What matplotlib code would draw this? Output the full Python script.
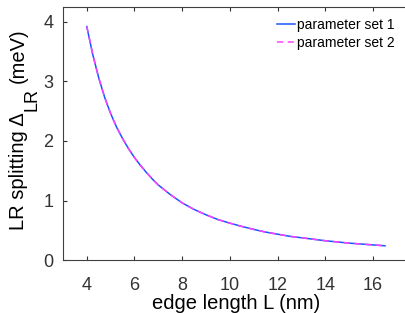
import matplotlib
matplotlib.use("Agg")
import matplotlib.pyplot as plt

plt.rcParams['font.family'] = ['Liberation Sans', 'DejaVu Sans']

# edge length L (nm) and LR splitting (meV)
edge_length = [4.0, 4.25, 4.5, 4.75, 5.0, 5.25, 5.5, 5.75, 6.0, 6.25, 6.5, 6.75,
               7.0, 7.25, 7.5, 7.75, 8.0, 8.5, 9.0, 9.5, 10.0, 10.5, 11.0, 11.5,
               12.0, 12.5, 13.0, 13.5, 14.0, 14.5, 15.0, 15.5, 16.0, 16.5]
splitting_set1 = [3.92, 3.45, 3.06, 2.73, 2.46, 2.23, 2.04, 1.87, 1.72, 1.59,
                  1.47, 1.36, 1.26, 1.18, 1.10, 1.03, 0.96, 0.85, 0.76, 0.68,
                  0.62, 0.565, 0.515, 0.47, 0.435, 0.40, 0.375, 0.35, 0.325, 0.305,
                  0.285, 0.27, 0.255, 0.24]
splitting_set2 = [3.92, 3.45, 3.06, 2.73, 2.46, 2.23, 2.04, 1.87, 1.72, 1.59,
                  1.47, 1.36, 1.26, 1.18, 1.10, 1.03, 0.96, 0.85, 0.76, 0.68,
                  0.62, 0.565, 0.515, 0.47, 0.435, 0.40, 0.375, 0.35, 0.325, 0.305,
                  0.285, 0.27, 0.255, 0.24]
x_ticks = [4, 6, 8, 10, 12, 14, 16]
y_ticks = [0, 1, 2, 3, 4]

W, H = 406, 313
fig = plt.figure(figsize=(W / 100, H / 100), dpi=100)
ax = fig.add_axes([0.155, 0.169, 0.852, 0.809])

ax.plot(edge_length, splitting_set1, color='#1a55ff', lw=1.1, label='parameter set 1')
ax.plot(edge_length, splitting_set2, color='#ff40ff', lw=1.1, ls=(0, (4, 3)),
        label='parameter set 2')

ax.set_xlim(3, 17.5)
ax.set_ylim(0, 4.25)
ax.set_xticks(x_ticks)
ax.set_yticks(y_ticks)
ax.tick_params(direction='in', top=True, right=True, length=3, width=0.8,
               labelsize=13, colors='#333333')
ax.tick_params(axis='x', pad=12)
ax.tick_params(axis='y', pad=7)
for sp in ax.spines.values():
    sp.set_color('#404040')
    sp.set_linewidth(0.8)

ax.set_xlabel('edge length L (nm)', fontsize=14.5, labelpad=0)

# y label drawn in pieces so the LR subscript stays large, like the original
renderer = fig.canvas.get_renderer()
y0 = 83          # pixels from the bottom where the label starts
x_base = 24      # baseline of the main text, pixels from the left
t1 = fig.text(x_base / W, y0 / H, 'LR splitting \u0394', rotation=90,
              rotation_mode='anchor', ha='left', va='baseline', fontsize=14.5)
h1 = t1.get_window_extent(renderer).height
t2 = fig.text((x_base + 13) / W, (y0 + h1 + 1) / H, 'LR', rotation=90,
              rotation_mode='anchor', ha='left', va='baseline', fontsize=13)
h2 = t2.get_window_extent(renderer).height
fig.text(x_base / W, (y0 + h1 + h2 + 6) / H, '(meV)', rotation=90,
         rotation_mode='anchor', ha='left', va='baseline', fontsize=14.5)

ax.legend(loc='upper right', frameon=False, fontsize=10, handlelength=1.3,
          handletextpad=0.15, labelspacing=0.3, borderaxespad=0,
          bbox_to_anchor=(0.975, 0.978))

fig.savefig('out.png', dpi=100)
